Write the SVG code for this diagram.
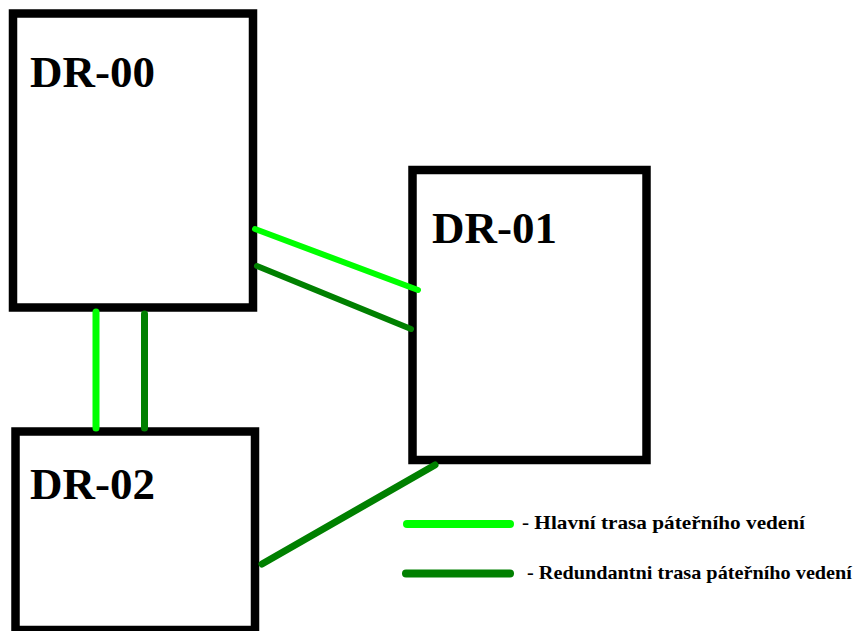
<svg xmlns="http://www.w3.org/2000/svg" width="856" height="631" viewBox="0 0 856 631">
<style>
.box{fill:#fff;stroke:#000;stroke-width:8.5}
.title{font-family:"Liberation Serif","Times New Roman",serif;font-weight:bold;font-size:45px;fill:#000}
.leg{font-family:"Liberation Serif","Times New Roman",serif;font-weight:bold;font-size:19px;fill:#000}
.main{stroke:#00ff00;stroke-linecap:round;fill:none}
.red{stroke:#008000;stroke-linecap:round;fill:none}
</style>
<rect width="856" height="631" fill="#fff"/>
<g id="DR-00"><rect class="box" x="13" y="13.5" width="240" height="294"/><text class="title" x="30" y="87">DR-00</text></g>
<g id="DR-01"><rect class="box" x="412.5" y="170" width="234" height="290"/><text class="title" x="432" y="243">DR-01</text></g>
<g id="DR-02"><rect class="box" x="15.5" y="431.5" width="239.5" height="198.5"/><text class="title" x="30" y="499">DR-02</text></g>
<g id="connectors">
<line class="main" x1="255" y1="229" x2="418" y2="290" stroke-width="6"/>
<line class="red" x1="257" y1="266" x2="411" y2="329" stroke-width="6"/>
<line class="main" x1="96" y1="312" x2="96" y2="428" stroke-width="7"/>
<line class="red" x1="144.5" y1="314" x2="144.5" y2="428" stroke-width="7"/>
<line class="red" x1="262" y1="564" x2="435" y2="465" stroke-width="7"/>
</g>
<g id="legend">
<line class="main" x1="407" y1="524" x2="510" y2="524" stroke-width="8"/>
<line class="red" x1="406" y1="573.5" x2="510" y2="573.5" stroke-width="8"/>
<text class="leg" x="522" y="529" textLength="283" lengthAdjust="spacingAndGlyphs">- Hlavní trasa páteřního vedení</text>
<text class="leg" x="527" y="579" textLength="325" lengthAdjust="spacingAndGlyphs">- Redundantni trasa páteřního vedení</text>
</g>
</svg>
